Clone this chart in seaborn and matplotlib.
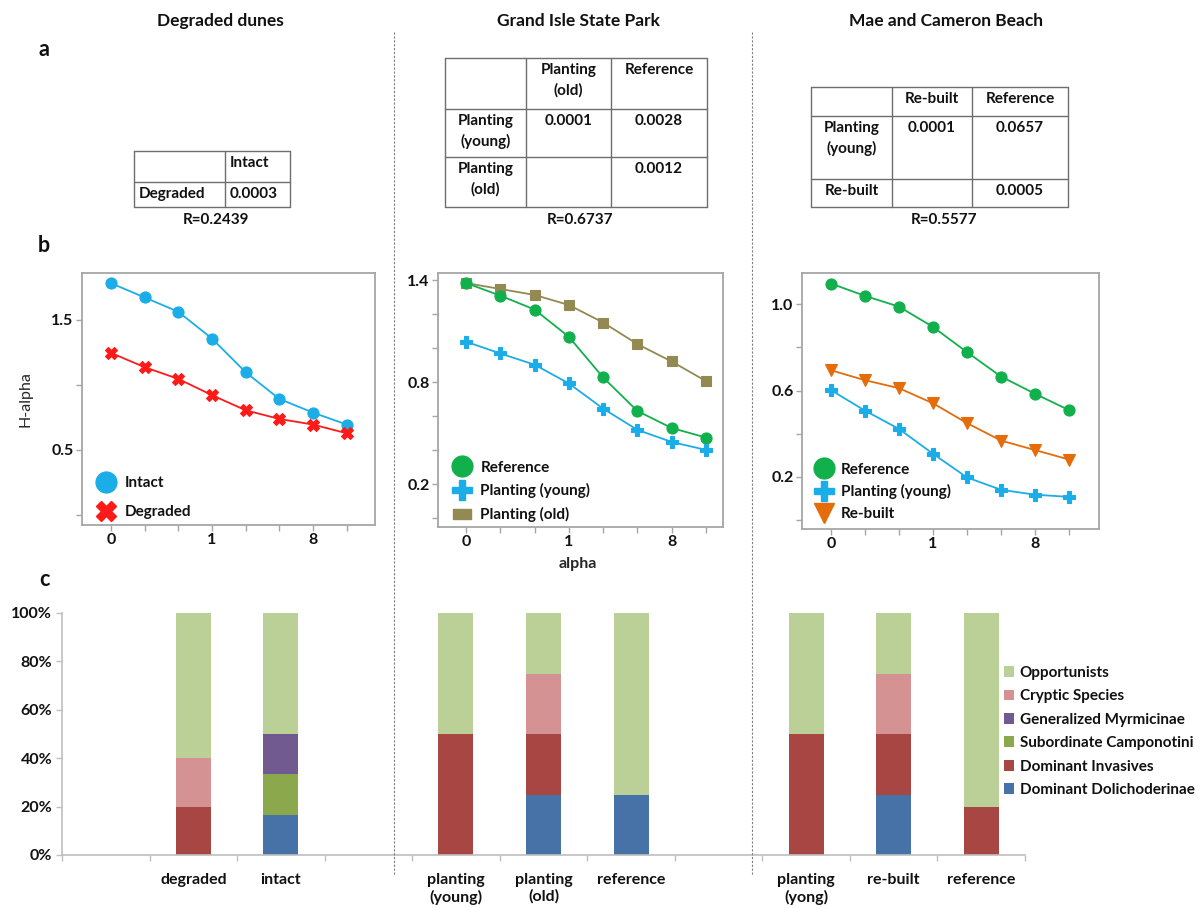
import numpy as np
import pandas as pd
import matplotlib
matplotlib.use("Agg")
import matplotlib.pyplot as plt
import seaborn as sns
from matplotlib.lines import Line2D
from matplotlib.patches import Patch

# ---------------- data ----------------
site_titles = ["Degraded dunes", "Grand Isle State Park", "Mae and Cameron Beach"]

# (a) pairwise tables
t1_cols = ["", "Intact"]
t1_rows = ["Degraded"]
t1_vals = [["0.0003"]]
t1_R = "R=0.2439"

t2_cols = ["", "Planting\n(old)", "Reference"]
t2_rows = ["Planting\n(young)", "Planting\n(old)"]
t2_vals = [["0.0001", "0.0028"], ["", "0.0012"]]
t2_R = "R=0.6737"

t3_cols = ["", "Re-built", "Reference"]
t3_rows = ["Planting\n(young)", "Re-built"]
t3_vals = [["0.0001", "0.0657"], ["", "0.0005"]]
t3_R = "R=0.5577"

# (b) diversity profiles
alpha_idx = [0, 1, 2, 3, 4, 5, 6, 7]
alpha_labels = ["0", "", "", "1", "", "", "8", ""]
dd_intact = [1.782, 1.672, 1.562, 1.356, 1.097, 0.892, 0.787, 0.695]
dd_degraded = [1.246, 1.136, 1.046, 0.921, 0.805, 0.738, 0.695, 0.628]
gi_reference = [1.384, 1.310, 1.228, 1.068, 0.829, 0.632, 0.532, 0.476]
gi_young = [1.039, 0.970, 0.904, 0.794, 0.646, 0.521, 0.450, 0.403]
gi_old = [1.384, 1.349, 1.314, 1.255, 1.152, 1.025, 0.923, 0.808]
mc_reference = [1.096, 1.039, 0.989, 0.895, 0.778, 0.665, 0.585, 0.509]
mc_young = [0.602, 0.507, 0.422, 0.307, 0.197, 0.140, 0.117, 0.107]
mc_rebuilt = [0.694, 0.648, 0.611, 0.541, 0.449, 0.368, 0.324, 0.280]

# (c) functional group composition (%)
bar_slots = ["gap1", "degraded", "intact", "gap2", "planting (young)", "planting (old)",
             "reference GI", "gap3", "planting (yong)", "re-built", "reference MC"]
bar_labels = ["", "degraded", "intact", "", "planting\n(young)", "planting\n(old)",
              "reference", "", "planting\n(yong)", "re-built", "reference"]
dolichoderinae = [0, 0, 16.7, 0, 0, 25, 25, 0, 0, 25, 0]
invasives = [0, 20, 0, 0, 50, 25, 0, 0, 50, 25, 20]
camponotini = [0, 0, 16.7, 0, 0, 0, 0, 0, 0, 0, 0]
myrmicinae = [0, 0, 16.6, 0, 0, 0, 0, 0, 0, 0, 0]
cryptic = [0, 20, 0, 0, 0, 25, 0, 0, 0, 25, 0]
opportunists = [0, 60, 50, 0, 50, 25, 75, 0, 50, 25, 80]
guild_names = ["Dominant Dolichoderinae", "Dominant Invasives", "Subordinate Camponotini",
               "Generalized Myrmicinae", "Cryptic Species", "Opportunists"]
guild_colors = ["#4672A7", "#A84644", "#8BA84D", "#715A8F", "#D49392", "#BBD097"]

# ---------------- style ----------------
sns.set_theme(style="white")
plt.rcParams['font.family'] = ['Lato', 'DejaVu Sans']
plt.rcParams['font.weight'] = 'bold'
plt.rcParams['axes.labelweight'] = 'bold'
plt.rcParams['text.color'] = '#111111'

W, H = 1203, 908
fig = plt.figure(figsize=(W / 100, H / 100), dpi=100)


def axpos(x0, y0, x1, y1):
    return [x0 / W, 1 - y1 / H, (x1 - x0) / W, (y1 - y0) / H]


SPINE = "#A6A6A6"


def style_line_ax(ax, ylim, yticks, ylabels, xlim):
    ax.set_xlim(*xlim)
    ax.set_ylim(*ylim)
    ax.set_xticks(alpha_idx, alpha_labels)
    ax.set_yticks(yticks, ylabels)
    for s in ax.spines.values():
        s.set_color(SPINE)
        s.set_linewidth(1.3)
    ax.tick_params(axis='both', which='both', direction='out', length=4, width=1,
                   color=SPINE, labelsize=11.5, labelcolor='#111111', bottom=True,
                   left=True, pad=2)
    for t in ax.get_xticklabels() + ax.get_yticklabels():
        t.set_fontweight('bold')
    ax.set_xlabel("")
    ax.set_ylabel("")


def draw_series(ax, vals, color, marker, ms):
    sns.lineplot(x=alpha_idx, y=vals, ax=ax, color=color, marker=marker, markersize=ms,
                 markeredgecolor=color, markeredgewidth=0.8, linewidth=1.3, legend=False)


rect_marker = [(-1, -0.55), (1, -0.55), (1, 0.55), (-1, 0.55), (-1, -0.55)]
LEGPROP = {'weight': 'bold', 'size': 11}

# panel b1
ax1 = fig.add_axes(axpos(82, 273, 375, 525))
draw_series(ax1, dd_intact, "#1BADE8", "o", 8)
draw_series(ax1, dd_degraded, "#FF1A1A", "X", 8)
style_line_ax(ax1, (-0.077, 1.86), [0, 0.5, 1.0, 1.5], ["", "0.5", "", "1.5"], (-0.86, 7.84))
ax1.set_ylabel("H-alpha", fontsize=11.5, fontweight='normal')
ax1.yaxis.set_label_coords((33 - 82) / 293, 0.5)
h1 = [Line2D([], [], ls='none', marker='o', color="#1BADE8", markersize=15),
      Line2D([], [], ls='none', marker='X', color="#FF1A1A", markersize=14)]
ax1.legend(h1, ["Intact", "Degraded"], loc='lower left', bbox_to_anchor=(0.02, -0.012),
           frameon=False, handlelength=1.2, handletextpad=0.6, labelspacing=0.95,
           borderaxespad=0.2, prop=LEGPROP)

# panel b2
ax2 = fig.add_axes(axpos(438, 273, 723, 527))
draw_series(ax2, gi_old, "#938953", "s", 6.5)
draw_series(ax2, gi_reference, "#12B04C", "o", 8)
draw_series(ax2, gi_young, "#1BADE8", "P", 8.5)
style_line_ax(ax2, (-0.05, 1.443), [0.0, 0.2, 0.4, 0.6, 0.8, 1.0, 1.2, 1.4],
              ["", "0.2", "", "", "0.8", "", "", "1.4"], (-0.82, 7.5))
ax2.set_xlabel("alpha", fontsize=11.5, fontweight='bold')
ax2.xaxis.set_label_coords((578 - 438) / 285, (527 - 557) / 254)
h2 = [Line2D([], [], ls='none', marker='o', color="#12B04C", markersize=15),
      Line2D([], [], ls='none', marker='P', color="#1BADE8", markersize=15),
      Line2D([], [], ls='none', marker=rect_marker, color="#938953", markersize=13)]
ax2.legend(h2, ["Reference", "Planting (young)", "Planting (old)"], loc='lower left',
           bbox_to_anchor=(0.02, -0.016), frameon=False, handlelength=1.2, handletextpad=0.6,
           labelspacing=0.56, borderaxespad=0.2, prop=LEGPROP)

# panel b3
ax3 = fig.add_axes(axpos(802, 273, 1099, 529))
draw_series(ax3, mc_reference, "#12B04C", "o", 8)
draw_series(ax3, mc_rebuilt, "#E46C0A", "v", 8)
draw_series(ax3, mc_young, "#1BADE8", "P", 8.5)
style_line_ax(ax3, (-0.042, 1.145), [0.0, 0.2, 0.4, 0.6, 0.8, 1.0],
              ["", "0.2", "", "0.6", "", "1.0"], (-0.85, 7.88))
h3 = [Line2D([], [], ls='none', marker='o', color="#12B04C", markersize=15),
      Line2D([], [], ls='none', marker='P', color="#1BADE8", markersize=15),
      Line2D([], [], ls='none', marker='v', color="#E46C0A", markersize=14)]
ax3.legend(h3, ["Reference", "Planting (young)", "Re-built"], loc='lower left',
           bbox_to_anchor=(0.012, -0.004), frameon=False, handlelength=1.2, handletextpad=0.5,
           labelspacing=0.5, borderaxespad=0.2, prop=LEGPROP)

# panel c : stacked bars
axc = fig.add_axes(axpos(62, 613, 1025, 855))
layers = [dolichoderinae, invasives, camponotini, myrmicinae, cryptic, opportunists]
cum = np.cumsum(np.array(layers, dtype=float), axis=0)
df = pd.DataFrame({"slot": bar_slots})
for k in range(len(layers) - 1, -1, -1):
    df["v"] = cum[k]
    sns.barplot(data=df, x="slot", y="v", order=bar_slots, color=guild_colors[k],
                width=0.4, saturation=1, ax=axc, errorbar=None, linewidth=0)
axc.set_xlim(-0.5, 10.5)
axc.set_ylim(0, 100)
axc.set_xticks(range(len(bar_slots)), bar_labels)
axc.set_xticks(np.arange(-0.5, 10.6, 1.0), minor=True)
axc.set_yticks([0, 20, 40, 60, 80, 100], ["0%", "20%", "40%", "60%", "80%", "100%"])
axc.set_xlabel("")
axc.set_ylabel("")
for s in ["top", "right"]:
    axc.spines[s].set_visible(False)
for s in ["left", "bottom"]:
    axc.spines[s].set_color("#BFBFBF")
    axc.spines[s].set_linewidth(1.2)
axc.tick_params(axis='x', which='major', length=0, labelsize=11.5, pad=13,
                labelcolor='#111111')
axc.tick_params(axis='x', which='minor', length=4, width=1, color="#BFBFBF", bottom=True,
                direction='out')
axc.tick_params(axis='y', length=4, width=1, color="#BFBFBF", left=True, direction='out',
                labelsize=11.5, pad=3, labelcolor='#111111')
for t in axc.get_xticklabels() + axc.get_yticklabels():
    t.set_fontweight('bold')
    t.set_linespacing(1.2)
leg_handles = [Patch(facecolor=guild_colors[k], edgecolor='none') for k in range(5, -1, -1)]
fig.legend(leg_handles, [guild_names[k] for k in range(5, -1, -1)], loc='upper left',
           bbox_to_anchor=(990 / W, 1 - 652 / H), frameon=False, handlelength=0.7,
           handleheight=0.7, handletextpad=0.35, labelspacing=0.62,
           prop={'weight': 'bold', 'size': 11})

# ---------------- overlay: titles, tables, separators ----------------
ov = fig.add_axes([0, 0, 1, 1], zorder=10)
ov.set_xlim(0, W)
ov.set_ylim(H, 0)
ov.axis('off')

for x, t in zip([220, 578, 946], site_titles):
    ov.text(x, 21, t, ha='center', va='center', fontsize=12.5, fontweight='bold')
for x, y, t in [(44, 50, "a"), (44, 246, "b"), (44, 580, "c")]:
    ov.text(x, y, t, ha='center', va='center', fontsize=15.5, fontweight='bold')
for x in [394, 752]:
    ov.plot([x, x], [32, 875], color="#7F7F7F", lw=0.8, ls=(0, (2, 1.5)))


def draw_table(xs, ys, cols, rows, vals, rtext, align):
    for x in xs:
        ov.plot([x, x], [ys[0], ys[-1]], color="#6E6E6E", lw=1)
    for y in ys:
        ov.plot([xs[0], xs[-1]], [y, y], color="#6E6E6E", lw=1)
    grid = [cols] + [[r] + v for r, v in zip(rows, vals)]
    for i, row in enumerate(grid):
        for j, txt in enumerate(row):
            if not txt:
                continue
            if align == 'left':
                tx, ha = xs[j] + 5, 'left'
            else:
                tx, ha = (xs[j] + xs[j + 1]) / 2, 'center'
            ov.text(tx, ys[i] + 5, txt, ha=ha, va='top', fontsize=11, fontweight='bold',
                    linespacing=1.5, multialignment='center')
    ov.text((xs[0] + xs[-1]) / 2 + 4, 220, rtext, ha='center', va='center', fontsize=11,
            fontweight='bold')


draw_table([134, 225, 290], [151, 182, 207], t1_cols, t1_rows, t1_vals, t1_R, 'left')
draw_table([445, 526, 611, 707], [58, 109, 157, 207], t2_cols, t2_rows, t2_vals, t2_R, 'center')
draw_table([811, 892, 972, 1068], [87, 116, 179, 207], t3_cols, t3_rows, t3_vals, t3_R, 'center')

fig.savefig("out.png", dpi=100)
